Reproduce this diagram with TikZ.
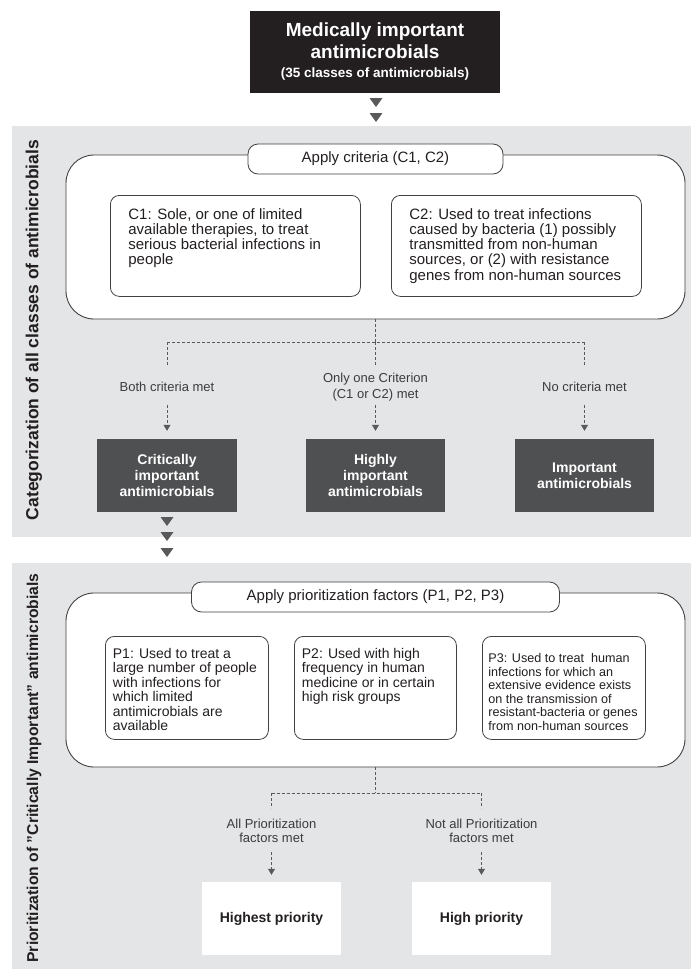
\documentclass[tikz,border=0pt]{standalone}
\usepackage{fontspec}
\setmainfont{Liberation Sans}
\usetikzlibrary{arrows.meta}
\definecolor{panelgray}{HTML}{E4E5E6}
\definecolor{darkfill}{HTML}{4F5052}
\definecolor{topblack}{HTML}{231F20}
\definecolor{linegray}{HTML}{58595B}
\definecolor{bordergray}{HTML}{414042}
\definecolor{txt}{HTML}{231F20}
\definecolor{labtxt}{HTML}{3C3C3E}
\begin{document}
\begin{tikzpicture}[x=1pt,y=-1pt,
  panel/.style={fill=panelgray},
  topbox/.style={fill=topblack, text=white, align=center, inner sep=0pt,
    minimum width=250pt, minimum height=82pt, font=\bfseries\fontsize{19}{22}\selectfont},
  outerbox/.style={draw=bordergray, line width=0.9pt, fill=white, rounded corners=28pt, inner sep=0pt},
  pill/.style={draw=bordergray, line width=0.8pt, fill=white, rounded corners=10pt,
    minimum height=30pt, inner sep=0pt, text=txt, font=\fontsize{15}{18}\selectfont},
  cbox/.style={draw=bordergray, line width=0.8pt, fill=white, rounded corners=9pt,
    inner xsep=18pt, inner ysep=13pt, anchor=north west, text=txt,
    font=\fontsize{15}{15.2}\selectfont},
  pbox/.style={draw=bordergray, line width=0.8pt, fill=white, rounded corners=9pt,
    inner xsep=7.5pt, inner ysep=12pt, anchor=north west, text=txt,
    font=\fontsize{14}{14.4}\selectfont},
  pboxsmall/.style={pbox, inner xsep=6pt, inner ysep=17pt, font=\fontsize{12.6}{13.6}\selectfont},
  darkbox/.style={fill=darkfill, text=white, align=center, inner sep=0pt,
    minimum width=140pt, minimum height=73pt, font=\bfseries\fontsize{14}{16}\selectfont},
  whitebox/.style={fill=white, text=txt, align=center, inner sep=0pt,
    minimum width=139pt, minimum height=73pt, font=\bfseries\fontsize{14}{16}\selectfont},
  lab/.style={text=labtxt, align=center, inner sep=0pt, font=\fontsize{13}{16}\selectfont},
  dashline/.style={draw=linegray, line width=0.8pt, dash pattern=on 3pt off 2pt},
  dasharrow/.style={dashline, -{Triangle[width=7pt,length=6pt]}},
  tri/.style={fill=linegray},
  vlabel/.style={rotate=90, text=txt, inner sep=0pt}
]
\useasboundingbox (0,0) rectangle (691,969);
\fill[white] (0,0) rectangle (691,969);

% panels
\fill[panel] (12,126) rectangle (691,537);
\fill[panel] (12,563) rectangle (691,969);

% top box
\node[topbox] (top) at (375,52) {Medically important\\
  antimicrobials\\[-3pt]
  {\fontsize{13.5}{16}\selectfont (35 classes of antimicrobials)}};

% chevrons below top box
\fill[tri] (369.5,98) -- (382.5,98) -- (376,107) -- cycle;
\fill[tri] (369.5,113) -- (382.5,113) -- (376,122) -- cycle;

% vertical labels
\node[vlabel, font=\bfseries\fontsize{17.5}{20}\selectfont] (v1) at (34,330)
  {Categorization of all classes of antimicrobials};
\node[vlabel, font=\bfseries\fontsize{15.7}{18}\selectfont] (v2) at (34,768)
  {Prioritization of "Critically Important" antimicrobials};

% ---------- section 1 ----------
\node[outerbox, minimum width=619pt, minimum height=164pt] (outer1) at (375.5,237) {};
\node[pill, minimum width=255pt] (pill1) at (375.5,159) {Apply criteria (C1, C2)};

\node[cbox] (c1) at (110,195) {\parbox[t][75pt][t]{214pt}{\raggedright
  C1: Sole, or one of limited\\
  available therapies, to treat\\
  serious bacterial infections in\\
  people}};
\node[cbox] (c2) at (391,195) {\parbox[t][75pt][t]{214pt}{\raggedright
  C2: Used to treat infections\\
  caused by bacteria (1) possibly\\
  transmitted from non-human\\
  sources, or (2) with resistance\\
  genes from non-human sources}};

\coordinate (j1) at (375.5,342);
\coordinate (jl) at (167,342);
\coordinate (jr) at (584.5,342);
\coordinate (e1) at (167,365);
\coordinate (e2) at (375.5,365);
\coordinate (e3) at (584.5,365);
\draw[dashline] (outer1.south) -- (j1);
\draw[dashline] (jl) -- (jr);
\draw[dashline] (jl) -- (e1);
\draw[dashline] (j1) -- (e2);
\draw[dashline] (jr) -- (e3);

\node[lab] (l1) at (167,387) {Both criteria met};
\node[lab] (l2) at (375.5,387.5) {Only one Criterion\\(C1 or C2) met};
\node[lab] (l3) at (584.5,387) {No criteria met};

\node[darkbox] (crit) at (167,475.5) {Critically\\important\\antimicrobials};
\node[darkbox, minimum width=139pt] (high) at (375.5,475.5) {Highly\\important\\antimicrobials};
\node[darkbox, minimum width=139pt] (imp) at (584.5,475.5) {Important\\antimicrobials};

\coordinate (s1) at (167,405);
\coordinate (s2) at (375.5,405);
\coordinate (s3) at (584.5,405);
\draw[dasharrow, shorten >=8pt] (s1) -- (crit.north);
\draw[dasharrow, shorten >=8pt] (s2) -- (high.north);
\draw[dasharrow, shorten >=8pt] (s3) -- (imp.north);

% chevrons below critically important
\fill[tri] (160.5,517) -- (173.5,517) -- (167,526) -- cycle;
\fill[tri] (160.5,532) -- (173.5,532) -- (167,541) -- cycle;
\fill[tri] (160.5,548) -- (173.5,548) -- (167,557) -- cycle;

% ---------- section 2 ----------
\node[outerbox, minimum width=619pt, minimum height=174pt] (outer2) at (375.5,680) {};
\node[pill, minimum width=368pt] (pill2) at (375.5,597) {Apply prioritization factors (P1, P2, P3)};

\node[pbox] (p1) at (105,636) {\parbox[t][79pt][t]{148pt}{\raggedright
  P1: Used to treat a\\
  large number of people\\
  with infections for\\
  which limited\\
  antimicrobials are\\
  available}};
\node[pbox] (p2) at (294,636) {\parbox[t][79pt][t]{147pt}{\raggedright
  P2: Used with high\\
  frequency in human\\
  medicine or in certain\\
  high risk groups}};
\node[pboxsmall] (p3) at (482,636) {\parbox[t][69pt][t]{151pt}{\raggedright\hbadness=10000
  \mbox{P3: Used to treat\ \ human}\\
  \mbox{infections for which an}\\
  \mbox{extensive evidence exists}\\
  \mbox{on the transmission of}\\
  \mbox{resistant-bacteria or genes}\\
  \mbox{from non-human sources}}};

\coordinate (j2) at (375.5,793);
\coordinate (jl2) at (271.5,793);
\coordinate (jr2) at (481.5,793);
\coordinate (e4) at (271.5,808);
\coordinate (e5) at (481.5,808);
\draw[dashline] (outer2.south) -- (j2);
\draw[dashline] (jl2) -- (jr2);
\draw[dashline] (jl2) -- (e4);
\draw[dashline] (jr2) -- (e5);

\node[lab, font=\fontsize{13}{14}\selectfont] (l4) at (271.5,830.5) {All Prioritization\\factors met};
\node[lab, font=\fontsize{13}{14}\selectfont] (l5) at (481.5,830.5) {Not all Prioritization\\factors met};

\node[whitebox] (highest) at (271.5,918.5) {Highest priority};
\node[whitebox] (highp) at (481.5,918.5) {High priority};

\coordinate (s4) at (271.5,852);
\coordinate (s5) at (481.5,852);
\draw[dasharrow, shorten >=7pt] (s4) -- (highest.north);
\draw[dasharrow, shorten >=7pt] (s5) -- (highp.north);
\end{tikzpicture}
\end{document}
